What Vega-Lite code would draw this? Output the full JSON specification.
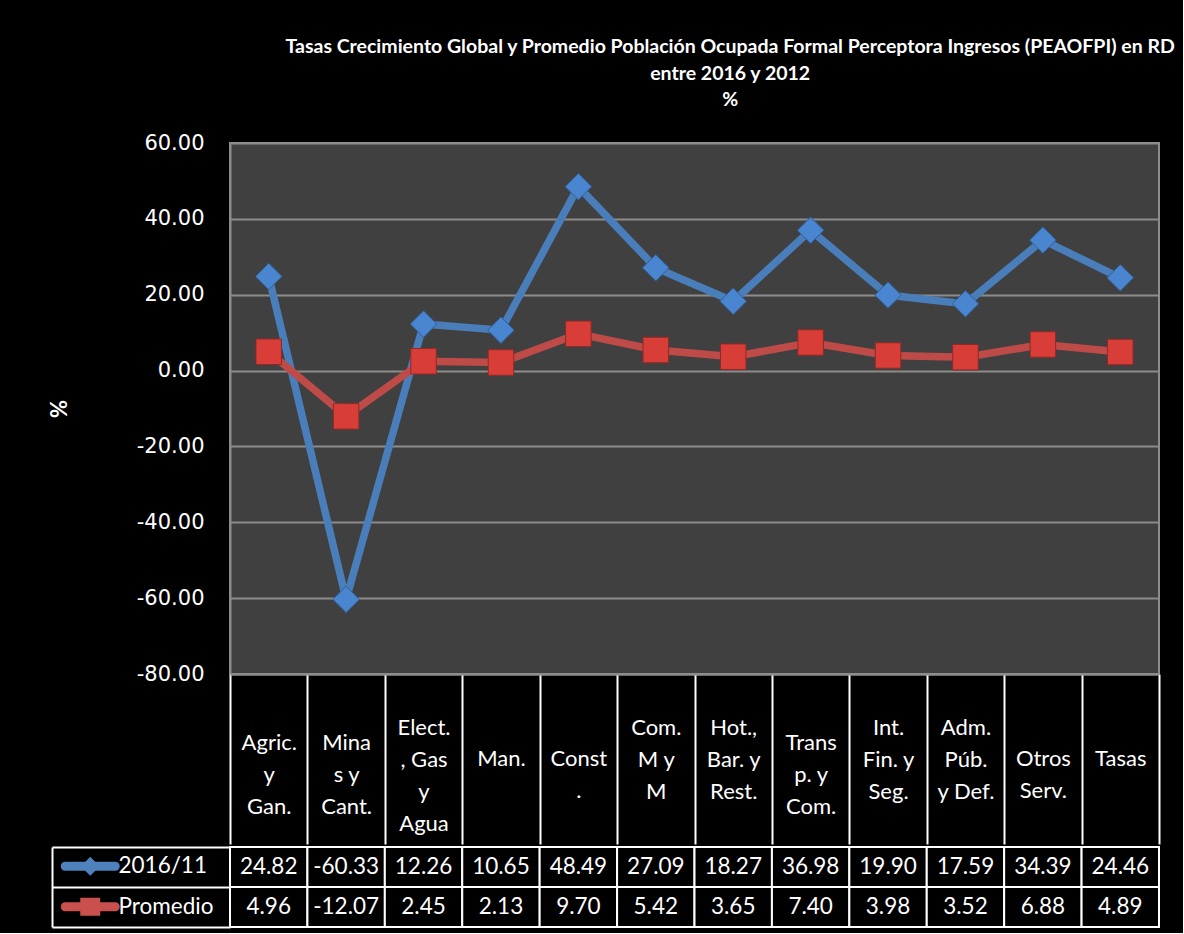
{
  "$schema": "https://vega.github.io/schema/vega-lite/v6.json",
  "background": "black",
  "padding": {"left": 47, "top": 37, "right": 5, "bottom": 5},
  "title": {
    "text": ["Tasas Crecimiento  Global y Promedio Población Ocupada Formal Perceptora Ingresos (PEAOFPI) en RD", "entre 2016 y 2012", "%"],
    "color": "white", "font": "Lato", "fontSize": 19.5, "fontWeight": "bold", "lineHeight": 26.5,
    "anchor": "middle", "offset": 20.5, "dx": 126
  },
  "datasets": {
    "d": [
      {"sector": "Agric.|y|Gan.", "series": "2016/11", "value": 24.82},
      {"sector": "Mina|s y|Cant.", "series": "2016/11", "value": -60.33},
      {"sector": "Elect.|, Gas|y|Agua", "series": "2016/11", "value": 12.26},
      {"sector": "Man.", "series": "2016/11", "value": 10.65},
      {"sector": "Const|.", "series": "2016/11", "value": 48.49},
      {"sector": "Com.|M y|M", "series": "2016/11", "value": 27.09},
      {"sector": "Hot.,|Bar. y|Rest.", "series": "2016/11", "value": 18.27},
      {"sector": "Trans|p. y|Com.", "series": "2016/11", "value": 36.98},
      {"sector": "Int.|Fin. y|Seg.", "series": "2016/11", "value": 19.90},
      {"sector": "Adm.|Púb.|y Def.", "series": "2016/11", "value": 17.59},
      {"sector": "Otros|Serv.", "series": "2016/11", "value": 34.39},
      {"sector": "Tasas", "series": "2016/11", "value": 24.46},
      {"sector": "Agric.|y|Gan.", "series": "Promedio", "value": 4.96},
      {"sector": "Mina|s y|Cant.", "series": "Promedio", "value": -12.07},
      {"sector": "Elect.|, Gas|y|Agua", "series": "Promedio", "value": 2.45},
      {"sector": "Man.", "series": "Promedio", "value": 2.13},
      {"sector": "Const|.", "series": "Promedio", "value": 9.70},
      {"sector": "Com.|M y|M", "series": "Promedio", "value": 5.42},
      {"sector": "Hot.,|Bar. y|Rest.", "series": "Promedio", "value": 3.65},
      {"sector": "Trans|p. y|Com.", "series": "Promedio", "value": 7.40},
      {"sector": "Int.|Fin. y|Seg.", "series": "Promedio", "value": 3.98},
      {"sector": "Adm.|Púb.|y Def.", "series": "Promedio", "value": 3.52},
      {"sector": "Otros|Serv.", "series": "Promedio", "value": 6.88},
      {"sector": "Tasas", "series": "Promedio", "value": 4.89}
    ]
  },
  "data": {"name": "d"},
  "spacing": 0,
  "resolve": {"scale": {"color": "independent", "shape": "independent"}, "legend": {"color": "independent", "shape": "independent"}},
  "config": {
    "font": "Lato",
    "locale": {"number": {"decimal": ".", "thousands": ",", "grouping": [3], "currency": ["$", ""], "minus": "-"}}
  },
  "vconcat": [
    {
      "width": 929,
      "height": 531,
      "view": {"fill": "#404040", "stroke": "#8c8c8c", "strokeWidth": 2},
      "encoding": {
        "x": {
          "field": "sector", "type": "nominal", "sort": null, "bandPosition": 0.5,
          "scale": {"type": "band", "paddingInner": 0, "paddingOuter": 0},
          "axis": {
            "title": null, "domainColor": "#8c8c8c", "domainWidth": 2,
            "ticks": true, "tickColor": "white", "tickWidth": 2, "tickSize": 170, "tickBand": "extent",
            "labelColor": "white", "labelFont": "Lato", "labelFontSize": 22, "labelAngle": 0,
            "labelAlign": "center", "labelBaseline": "top", "labelLineHeight": 32,
            "labelPadding": {
              "condition": [
                {"test": "indexof(['Agric.|y|Gan.','Mina|s y|Cant.','Trans|p. y|Com.'], datum.value) >= 0", "value": -112},
                {"test": "indexof(['Man.','Const|.','Otros|Serv.','Tasas'], datum.value) >= 0", "value": -96}
              ],
              "value": -127
            },
            "labelExpr": "split(datum.label, '|')",
            "labelOverlap": false, "labelBound": false, "labelFlush": false
          }
        },
        "y": {
          "field": "value", "type": "quantitative",
          "scale": {"domain": [-80, 60], "nice": false, "zero": false},
          "axis": {
            "title": "%", "titleColor": "white", "titleFont": "Lato", "titleFontSize": 22, "titleFontWeight": "bold", "titlePadding": 65,
            "values": [-80, -60, -40, -20, 0, 20, 40, 60], "format": ".2f",
            "labelFont": "DejaVu Sans", "labelFontSize": 21, "labelColor": "white", "labelPadding": 26, "labelFlush": false,
            "ticks": false, "domainColor": "#8c8c8c", "domainWidth": 2,
            "grid": true, "gridColor": "#8c8c8c", "gridWidth": 2
          }
        }
      },
      "layer": [
        {
          "mark": {"type": "line", "strokeWidth": 7.5},
          "encoding": {
            "color": {"field": "series", "type": "nominal", "scale": {"domain": ["2016/11", "Promedio"], "range": ["#4a7ebb", "#be4b48"]}, "legend": null}
          }
        },
        {
          "transform": [{"filter": "datum.series === '2016/11'"}],
          "mark": {"type": "point", "shape": "diamond", "filled": true, "size": 700, "fill": "#4a86cf", "stroke": "#2d5f9a", "strokeWidth": 1, "opacity": 1}
        },
        {
          "transform": [{"filter": "datum.series === 'Promedio'"}],
          "mark": {"type": "point", "shape": "square", "filled": true, "size": 650, "fill": "#d93d38", "stroke": "#8f2a27", "strokeWidth": 1, "opacity": 1}
        }
      ]
    },
    {
      "width": 929,
      "height": 80,
      "view": {"fill": "black", "stroke": null},
      "encoding": {
        "x": {"field": "sector", "type": "nominal", "sort": null, "scale": {"type": "band", "paddingInner": 0, "paddingOuter": 0}, "axis": null},
        "y": {
          "field": "series", "type": "nominal", "sort": ["2016/11", "Promedio"],
          "scale": {"type": "band", "paddingInner": 0, "paddingOuter": 0},
          "axis": {"title": null, "labels": false, "offset": 178, "tickSize": -178, "tickBand": "extent", "tickColor": "white", "tickWidth": 2, "domainColor": "white", "domainWidth": 2, "grid": false}
        }
      },
      "layer": [
        {"mark": {"type": "rect", "fill": "black", "stroke": "white", "strokeWidth": 2}},
        {"mark": {"type": "text", "color": "white", "font": "Lato", "fontSize": 22.5}, "encoding": {"text": {"field": "value", "type": "quantitative", "format": ".2f"}}},
        {
          "mark": {"type": "point", "filled": true, "opacity": 0, "size": 400},
          "encoding": {
            "color": {"field": "series", "type": "nominal", "scale": {"domain": ["2016/11", "Promedio"], "range": ["#4f81bd", "#c9504c"]},
              "legend": {"title": null, "orient": "none", "legendX": -151, "legendY": 8, "direction": "vertical", "labelColor": "white", "labelFont": "Lato", "labelFontSize": 22.5, "labelOffset": 17, "symbolSize": 400, "symbolOpacity": 1, "rowPadding": 17.5, "padding": 0, "symbolStrokeWidth": 0}},
            "shape": {"field": "series", "type": "nominal", "scale": {"domain": ["2016/11", "Promedio"], "range": ["M-2.5,-0.45L2.5,-0.45A0.45,0.45 0 0 1 2.5,0.45L-2.5,0.45A0.45,0.45 0 0 1 -2.5,-0.45Z M0,-0.95L0.95,0L0,0.95L-0.95,0Z", "M-2.5,-0.45L2.5,-0.45A0.45,0.45 0 0 1 2.5,0.45L-2.5,0.45A0.45,0.45 0 0 1 -2.5,-0.45Z M-1,-0.9L1,-0.9L1,0.9L-1,0.9Z"]},
              "legend": {"title": null, "orient": "none", "legendX": -151, "legendY": 8, "direction": "vertical", "labelColor": "white", "labelFont": "Lato", "labelFontSize": 22.5, "labelOffset": 17, "symbolSize": 400, "symbolOpacity": 1, "rowPadding": 17.5, "padding": 0, "symbolStrokeWidth": 0}}
          }
        }
      ]
    }
  ]
}
